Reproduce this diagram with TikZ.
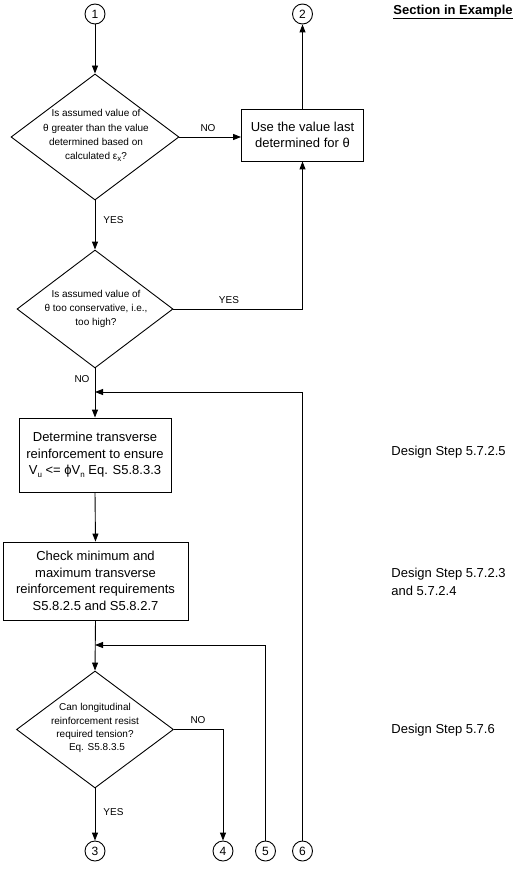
\documentclass[tikz,border=0pt]{standalone}
\usepackage{fontspec}
\setmainfont{Liberation Sans}
\usetikzlibrary{arrows.meta,shapes.geometric}
\newcommand{\lowsub}[1]{\raisebox{-0.35ex}{\fontsize{8}{8}\selectfont #1}}
\begin{document}
\begin{tikzpicture}[x=1pt,y=-1pt,line width=0.9pt,
  arr/.style={-{Triangle[length=8pt,width=6pt]}},
  conn/.style={draw,circle,minimum size=20pt,inner sep=0pt,font=\fontsize{12}{12}\selectfont},
  dia/.style={draw,diamond,inner sep=0pt},
  diatext/.style={align=center,inner sep=0pt,font=\fontsize{10}{14.3}\selectfont},
  procbox/.style={draw,align=center,inner sep=2pt,font=\fontsize{13}{16.6}\selectfont},
  lbl/.style={inner sep=0pt,font=\fontsize{10}{10}\selectfont},
  side/.style={anchor=west,align=left,inner sep=0pt,font=\fontsize{13}{17.5}\selectfont}]
\useasboundingbox (0,0) rectangle (532,869);

% connectors (circles)
\node[conn] (c1) at (95,14) {1};
\node[conn] (c2) at (302.5,14) {2};
\node[conn] (c3) at (95,851) {3};
\node[conn] (c4) at (223,851) {4};
\node[conn] (c5) at (265.5,851) {5};
\node[conn] (c6) at (302.5,851) {6};

% header
\node[inner sep=0pt,anchor=west,font=\bfseries\fontsize{13}{13}\selectfont] (hdr) at (393,12) {\underline{Section in Example}};

% decision 1
\node[dia,minimum width=168pt,minimum height=126pt] (d1) at (95,137) {};
\node[diatext] (t1) at (96,135.5) {Is assumed value of\\θ greater than the value\\determined based on\\calculated ε\lowsub{x}?};

% box 1
\node[procbox,minimum width=122pt,minimum height=52pt] (b1) at (302.5,135) {Use the value last\\determined for θ};

% decision 2
\node[dia,minimum width=156pt,minimum height=118pt] (d2) at (95,309) {};
\node[diatext,font=\fontsize{10}{13.6}\selectfont] (t2) at (96,309) {Is assumed value of\\θ too conservative, i.e.,\\too high?};

% box 2
\node[procbox,minimum width=152pt,minimum height=74pt] (b2) at (95,455) {Determine transverse\\reinforcement to ensure\\V\lowsub{u} <= ϕV\lowsub{n} Eq. S5.8.3.3};

% box 3
\node[procbox,minimum width=185pt,minimum height=78pt] (b3) at (95.5,581) {Check minimum and\\maximum transverse\\reinforcement requirements\\S5.8.2.5 and S5.8.2.7};

% decision 3
\node[dia,minimum width=157pt,minimum height=117pt] (d3) at (95,729.5) {};
\node[diatext,font=\fontsize{10}{13.1}\selectfont] (t3) at (95,728) {Can longitudinal\\reinforcement resist\\required tension?\\\hspace*{4pt}Eq. S5.8.3.5};

% side notes
\node[side] (s1) at (391,452) {Design Step 5.7.2.5};
\node[side] (s2) at (391,582) {Design Step 5.7.2.3\\and 5.7.2.4};
\node[side] (s3) at (391,730) {Design Step 5.7.6};

% junction coordinates
\coordinate (j6) at (95,392);
\coordinate (j5) at (95,645);

% arrows
\draw[arr] (c1.south) -- (d1.north);
\draw[arr] (d1.east) -- (d1.east -| b1.west);
\draw[arr] (b1.north) -- (c2.south);
\draw[arr] (d1.south) -- (d2.north);
\draw[arr] (d2.east) -| (b1.south);
\draw[arr] (d2.south) -- (b2.north);
\draw[arr] (c6.north) |- (j6);
\draw[arr] (b2.south) -- (b3.north);
\draw[arr] (b3.south) -- (d3.north);
\draw[arr] (c5.north) |- (j5);
\draw[arr] (d3.east) -| (c4.north);
\draw[arr] (d3.south) -- (c3.north);

% labels
\node[lbl] (l1) at (208,128) {NO};
\node[lbl,anchor=west] (l2) at (103,220) {YES};
\node[lbl] (l3) at (229,300) {YES};
\node[lbl] (l4) at (82,379) {NO};
\node[lbl] (l5) at (198,720) {NO};
\node[lbl,anchor=west] (l6) at (103,812) {YES};
\end{tikzpicture}
\end{document}
